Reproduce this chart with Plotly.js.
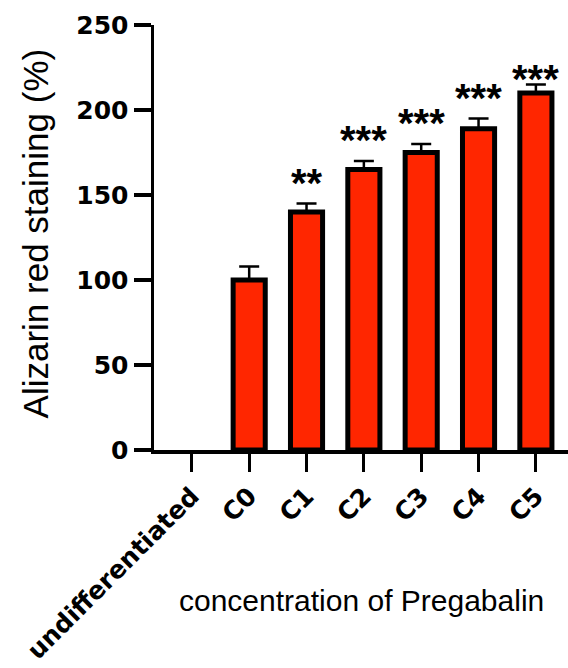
<!DOCTYPE html>
<html>
<head>
<meta charset="utf-8">
<script src="https://cdn.plot.ly/plotly-3.0.1.min.js"></script>
<style>html,body{margin:0;padding:0;background:#fff}#chart{width:568px;height:668px}</style>
</head>
<body>
<div id="chart"></div>
<script>
const categories = ["undifferentiated", "C0", "C1", "C2", "C3", "C4", "C5"];
const values = [null, 100, 140, 165, 175, 189, 210];
const errors = [null, 8, 5, 5, 5, 6, 5];
const significance = ["", "", "**", "***", "***", "***", "***"];
const yTickVals = [0, 50, 100, 150, 200, 250];

const boldFont = "DejaVu Sans, Arial, sans-serif";
const starFont = "Arial, Liberation Sans, sans-serif";
const regFont = "Arial, Liberation Sans, sans-serif";

const trace = {
  type: "bar",
  x: categories,
  y: values,
  width: 0.56,
  marker: { color: "#ff2600", line: { color: "#000", width: 5 } },
  error_y: {
    type: "data",
    array: errors,
    arrayminus: errors.map(() => 0),
    symmetric: false,
    color: "#000",
    thickness: 2.5,
    width: 10
  },
  hoverinfo: "skip"
};

const annotations = [];
categories.forEach((c, i) => {
  if (!significance[i]) return;
  const last = i === categories.length - 1;
  annotations.push({
    x: c, y: values[i] + errors[i], xref: "x", yref: "y",
    text: significance[i], showarrow: false,
    yanchor: "middle", yshift: last ? 6 : 21,
    font: { family: starFont, size: 40, color: "#000", weight: "bold" }
  });
});
annotations.push({
  xref: "paper", yref: "paper", x: 0.5, y: -0.353,
  xanchor: "center", yanchor: "middle", showarrow: false,
  text: "concentration of Pregabalin",
  font: { family: regFont, size: 30, color: "#000" }
});
annotations.push({
  xref: "paper", yref: "paper", x: -0.287, y: 0.51,
  xanchor: "center", yanchor: "middle", showarrow: false, textangle: -90,
  text: "Alizarin red staining (%)",
  font: { family: regFont, size: 35, color: "#000" }
});

const layout = {
  width: 568, height: 668,
  margin: { l: 154, r: 0, t: 25, b: 218 },
  paper_bgcolor: "#fff", plot_bgcolor: "#fff",
  showlegend: false,
  xaxis: {
    type: "category", range: [-0.66, 6.56],
    showline: true, linecolor: "#000", linewidth: 3.5,
    ticks: "outside", ticklen: 18, tickwidth: 3, tickcolor: "#000",
    tickangle: -45, showgrid: false, zeroline: false,
    tickfont: { family: boldFont, size: 25, color: "#000", weight: "bold" }
  },
  yaxis: {
    range: [0, 250], tickvals: yTickVals, ticktext: yTickVals.map(String),
    showline: true, linecolor: "#000", linewidth: 3.5,
    ticks: "outside", ticklen: 17, tickwidth: 3.5, tickcolor: "#000",
    showgrid: false, zeroline: false,
    tickfont: { family: boldFont, size: 25, color: "#000", weight: "bold" }
  },
  annotations: annotations
};

Plotly.newPlot("chart", [trace], layout, { displayModeBar: false, staticPlot: true });
</script>
</body>
</html>
